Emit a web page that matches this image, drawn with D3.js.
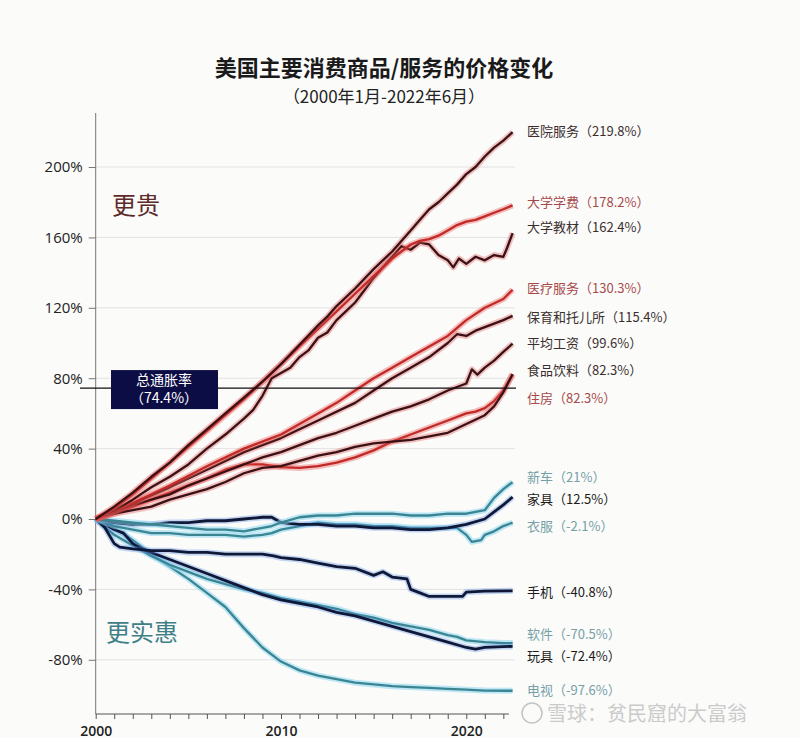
<!DOCTYPE html>
<html>
<head>
<meta charset="utf-8">
<script src="https://cdn.jsdelivr.net/npm/d3@7"></script>
<style>
body { margin: 0; background: #fbfbfa; }
text { font-family: "Noto Sans CJK SC", "Noto Sans", sans-serif; }
</style>
</head>
<body>
<svg id="chart" width="800" height="738"></svg>
<script>
// values, [year, % change since Jan 2000]
var hospital = [[2000,0],[2001,7],[2002,15],[2003,24],[2004,32],[2005,42],[2006,51],[2007,60],[2008,69],[2009,78],[2010,88],[2011,99],[2012,110],[2012.5,115],[2013,121],[2014,131],[2015,142],[2016,152],[2016.5,158],[2017,164],[2017.5,170],[2018,176],[2018.5,180],[2019,185],[2019.5,190],[2020,196],[2020.5,200],[2021,206],[2021.5,211],[2022,215],[2022.5,219.8]];
var tuition = [[2000,0],[2001,6],[2002,14],[2003,23],[2004,32],[2005,41],[2006,50],[2007,59],[2008,68],[2009,78],[2010,88],[2011,98],[2012,108],[2013,118],[2014,128],[2015,138],[2016,148],[2016.5,152],[2017,156],[2017.5,158],[2018,159],[2018.5,161],[2019,164],[2019.5,167],[2020,169],[2020.5,170],[2021,172],[2021.5,174],[2022,176],[2022.5,178.2]];
var textbooks = [[2000,0],[2001,5],[2002,11],[2003,18],[2004,24],[2005,31],[2006,40],[2007,48],[2008,57],[2008.5,62],[2009,70],[2009.5,80],[2010,83],[2010.5,86],[2011,92],[2011.5,96],[2012,103],[2012.5,106],[2013,113],[2013.5,118],[2014,123],[2014.5,130],[2015,137],[2015.5,143],[2016,149],[2016.5,155],[2017,153],[2017.5,157],[2018,156],[2018.5,150],[2019,147],[2019.3,143],[2019.6,148],[2020,145],[2020.5,149],[2021,147],[2021.5,150],[2022,149],[2022.2,154],[2022.5,162.4]];
var medical = [[2000,0],[2002,9],[2004,19],[2006,30],[2008,40],[2010,48],[2011,54],[2012,60],[2013,66],[2014,73],[2015,80],[2016,86],[2017,92],[2018,98],[2019,104],[2020,113],[2021,120],[2022,125],[2022.5,130.3]];
var childcare = [[2000,0],[2001,4],[2002,9],[2004,18],[2006,28],[2008,38],[2010,46],[2012,56],[2014,66],[2015,73],[2016,80],[2017,86],[2018,92],[2019,100],[2019.5,105],[2020,104],[2020.5,107],[2021,109],[2022,113],[2022.5,115.4]];
var wages = [[2000,0],[2001,4],[2002,8],[2003,11],[2004,14],[2005,19],[2006,23],[2007,27],[2008,31],[2009,35],[2010,38],[2011,42],[2012,46],[2013,49],[2014,53],[2015,57],[2016,61],[2017,64],[2018,68],[2019,73],[2020,77],[2020.3,85],[2020.6,82],[2021,86],[2021.5,90],[2022,95],[2022.5,99.6]];
var food = [[2000,0],[2001,3],[2002,5],[2003,7],[2004,11],[2005,14],[2006,17],[2007,21],[2008,26],[2009,29],[2010,30],[2011,33],[2012,36],[2013,38],[2014,41],[2015,43],[2016,44],[2017,45],[2018,47],[2019,49],[2020,54],[2021,59],[2021.5,64],[2022,72],[2022.5,82.3]];
var housing = [[2000,0],[2001,3],[2002,7],[2003,11],[2004,15],[2005,19],[2006,23],[2007,28],[2008,31],[2009,31],[2010,29.5],[2011,29],[2012,30],[2013,32],[2014,35],[2015,39],[2016,44],[2017,48],[2018,52],[2019,56],[2020,60],[2020.5,61],[2021,63],[2021.5,67],[2022,73],[2022.5,82.3]];
var newcars = [[2000,0],[2001,-1],[2002,-2],[2003,-3],[2004,-4],[2005,-5],[2006,-6],[2007,-6],[2008,-7],[2009,-5],[2009.5,-4],[2010,-2],[2011,1],[2012,2],[2013,2],[2014,3],[2015,3],[2016,3],[2017,2],[2018,2],[2019,3],[2020,3],[2021,5],[2021.5,12],[2022,17],[2022.5,21]];
var furniture = [[2000,0],[2001,-2],[2002,-3],[2003,-3],[2004,-2],[2005,-2],[2006,-1],[2007,-1],[2008,0],[2009,1],[2009.5,1],[2010,-2],[2011,-3],[2012,-3],[2013,-4],[2014,-4],[2015,-5],[2016,-5],[2017,-6],[2018,-6],[2019,-5],[2020,-3],[2021,0],[2021.5,4],[2022,8],[2022.5,12.5]];
var clothing = [[2000,0],[2001,-4],[2002,-6],[2003,-8],[2004,-8],[2005,-9],[2006,-9],[2007,-9],[2008,-10],[2009,-9],[2009.5,-8],[2010,-6],[2011,-4],[2012,-2],[2013,-3],[2014,-3],[2015,-4],[2016,-4],[2017,-5],[2018,-5],[2019,-5],[2019.5,-5],[2020,-9],[2020.3,-13],[2020.8,-12],[2021,-9],[2021.5,-7],[2022,-4],[2022.5,-2.1]];
var phones = [[2000,0],[2000.5,-5],[2001,-14],[2001.3,-16],[2002,-17],[2003,-18],[2004,-18],[2005,-19],[2006,-19],[2007,-20],[2008,-20],[2009,-20],[2009.6,-21],[2010,-22],[2011,-23],[2012,-25],[2013,-27],[2014,-28],[2015,-32],[2015.5,-30],[2016,-33],[2016.8,-34],[2017,-40],[2017.5,-42],[2018,-44],[2019,-44],[2019.8,-44],[2020,-41.5],[2021,-41],[2022.5,-40.8]];
var toys = [[2000,0],[2001,-6],[2001.5,-8],[2002,-14],[2002.5,-17],[2003,-19],[2004,-23],[2005,-27],[2006,-31],[2007,-35],[2008,-39],[2009,-43],[2010,-46],[2011,-48],[2012,-50],[2013,-53],[2014,-55],[2015,-58],[2016,-61],[2017,-64],[2018,-67],[2019,-70],[2020,-73],[2020.5,-74],[2021,-73],[2022,-72.5],[2022.5,-72.4]];
var software = [[2000,0],[2001,-9],[2002,-15],[2003,-21],[2004,-26],[2005,-30],[2006,-34],[2007,-37],[2008,-40],[2009,-42],[2010,-45],[2011,-47],[2012,-49],[2013,-51],[2014,-54],[2015,-56],[2016,-59],[2017,-61],[2018,-63],[2019,-66],[2019.5,-67],[2020,-69],[2021,-70],[2022,-70.5],[2022.5,-70.5]];
var tv = [[2000,0],[2001,-5],[2002,-12],[2003,-20],[2004,-27],[2005,-34],[2006,-42],[2007,-50],[2008,-62],[2009,-73],[2010,-81],[2011,-86],[2012,-89],[2013,-91],[2014,-93],[2015,-94],[2016,-95],[2017,-95.5],[2018,-96],[2019,-96.5],[2020,-97],[2021,-97.5],[2022.5,-97.6]];

var names = ["电视","软件","玩具","手机","衣服","家具","新车","住房","食品饮料","平均工资","保育和托儿所","医疗服务","大学教材","大学学费","医院服务"];
var finals = ["-97.6%","-70.5%","-72.4%","-40.8%","-2.1%","12.5%","21%","82.3%","82.3%","99.6%","115.4%","130.3%","162.4%","178.2%","219.8%"];
var kinds = ["teal","teal","navy","navy","teal","navy","teal","red","dark","dark","dark","red","dark","red","dark"];
var seriesData = [tv, software, toys, phones, clothing, furniture, newcars, housing, food, wages, childcare, medical, textbooks, tuition, hospital];
// label nudges so the end labels don't collide (px)
var labelNudge = [0, -9, 10, 2, 4, 2, -5, 24, -4, 0, 2, -1, -6, -3, -1];

var inflation = 74.4;
var yTicks = [-80, -40, 0, 40, 80, 120, 160, 200];
var xTickYears = d3.range(2000, 2023);

var svg = d3.select("#chart");

var x = d3.scaleLinear().domain([2000, 2022.5]).range([95.7, 512.6]);
var y = d3.scaleLinear().domain([-110.8, 230.7]).range([714, 113]);

var lineColor = { red: "#c22a28", dark: "#3a1215", teal: "#3b8593", navy: "#0f1836" };
var haloColor = { red: "rgba(235,95,90,0.4)", dark: "rgba(225,80,80,0.35)", teal: "rgba(140,215,240,0.55)", navy: "rgba(90,140,225,0.35)" };
var labelColor = { red: "#a84a4a", dark: "#3a2e2e", teal: "#75a0a6", navy: "#1b1b1b" };

// title
svg.append("text")
    .attr("x", 384).attr("y", 76)
    .attr("text-anchor", "middle")
    .style("font-size", "22px").style("font-weight", "bold").style("fill", "#1a1a1a")
    .text("美国主要消费商品/服务的价格变化");
svg.append("text")
    .attr("x", 384).attr("y", 103)
    .attr("text-anchor", "middle")
    .style("font-size", "17px").style("fill", "#222")
    .text("（2000年1月-2022年6月）");

// grid
svg.append("g")
    .selectAll("line")
    .data(yTicks.filter(function(d) { return d !== 0; }))
    .enter().append("line")
      .attr("x1", x(2000)).attr("x2", 515)
      .attr("y1", function(d) { return y(d); })
      .attr("y2", function(d) { return y(d); })
      .attr("stroke", "#e2e2e2").attr("stroke-width", 1);

// y axis
var yAxis = svg.append("g")
    .attr("transform", "translate(" + x(2000) + ",0)")
    .call(d3.axisLeft(y).tickValues(yTicks).tickSize(7).tickPadding(6)
      .tickFormat(function(d) { return d + "%"; }));
yAxis.select(".domain").attr("stroke", "#777").attr("d", "M0,113V714");
yAxis.selectAll(".tick line").attr("stroke", "#777");
yAxis.selectAll(".tick text")
    .style("font-size", "15px").style("fill", "#222")
    .style("font-family", "'Open Sans', 'Noto Sans', sans-serif");

// x axis
var xAxis = svg.append("g")
    .attr("transform", "translate(0,714)")
    .call(d3.axisBottom(x).tickValues(xTickYears).tickSize(5).tickPadding(7)
      .tickFormat(function(d) { return d % 10 === 0 ? d : ""; }));
xAxis.select(".domain").attr("stroke", "#555").attr("d", "M" + x(2000) + ",0H" + x(2022.3));
xAxis.selectAll(".tick line").attr("stroke", "#555");
xAxis.selectAll(".tick text")
    .style("font-size", "14px").style("font-weight", "600").style("fill", "#222")
    .style("font-family", "'Open Sans', 'Noto Sans', sans-serif");

// region labels
svg.append("text").attr("x", 112).attr("y", 214)
    .style("font-size", "24px").style("fill", "#5e2a2a").text("更贵");
svg.append("text").attr("x", 106).attr("y", 641)
    .style("font-size", "24px").style("fill", "#3f8088").text("更实惠");

// lines
var line = d3.line()
    .x(function(d) { return x(d[0]); })
    .y(function(d) { return y(d[1]); });

var series = svg.append("g").selectAll("g")
    .data(seriesData)
    .enter().append("g");

series.append("path")
    .attr("d", line)
    .attr("fill", "none")
    .attr("stroke", function(d, i) { return haloColor[kinds[i]]; })
    .attr("stroke-width", 6)
    .attr("stroke-linejoin", "round");

series.append("path")
    .attr("d", line)
    .attr("fill", "none")
    .attr("stroke", function(d, i) { return lineColor[kinds[i]]; })
    .attr("stroke-width", function(d, i) { return kinds[i] === "navy" ? 2.8 : 2.3; })
    .attr("stroke-linejoin", "round");

// inflation line + box
svg.append("line")
    .attr("x1", 80).attr("x2", 516)
    .attr("y1", y(inflation)).attr("y2", y(inflation))
    .attr("stroke", "#111").attr("stroke-width", 1.3);
svg.append("rect")
    .attr("x", 111).attr("y", y(inflation) - 18)
    .attr("width", 107).attr("height", 39)
    .attr("fill", "#0d0d45");
svg.append("text")
    .attr("x", 164).attr("y", y(inflation) - 3)
    .attr("text-anchor", "middle")
    .style("font-size", "14px").style("fill", "#fff")
    .text("总通胀率");
svg.append("text")
    .attr("x", 164).attr("y", y(inflation) + 15)
    .attr("text-anchor", "middle")
    .style("font-size", "14px").style("fill", "#fff")
    .text("（" + inflation + "%）");

// end labels
svg.append("g").selectAll("text")
    .data(seriesData)
    .enter().append("text")
      .attr("x", 527)
      .attr("y", function(d, i) { return y(d[d.length - 1][1]) + labelNudge[i]; })
      .attr("dy", "0.35em")
      .style("font-size", "13px")
      .style("fill", function(d, i) { return labelColor[kinds[i]]; })
      .text(function(d, i) { return names[i] + "（" + finals[i] + "）"; });

// watermark
svg.append("circle").attr("cx", 532).attr("cy", 713).attr("r", 10)
    .attr("fill", "none").attr("stroke", "#c4c4c4").attr("stroke-width", 1.5);
svg.append("text").attr("x", 547).attr("y", 721)
    .style("font-size", "20px").style("fill", "#cbcbcb")
    .text("雪球：贫民窟的大富翁");
</script>
</body>
</html>
